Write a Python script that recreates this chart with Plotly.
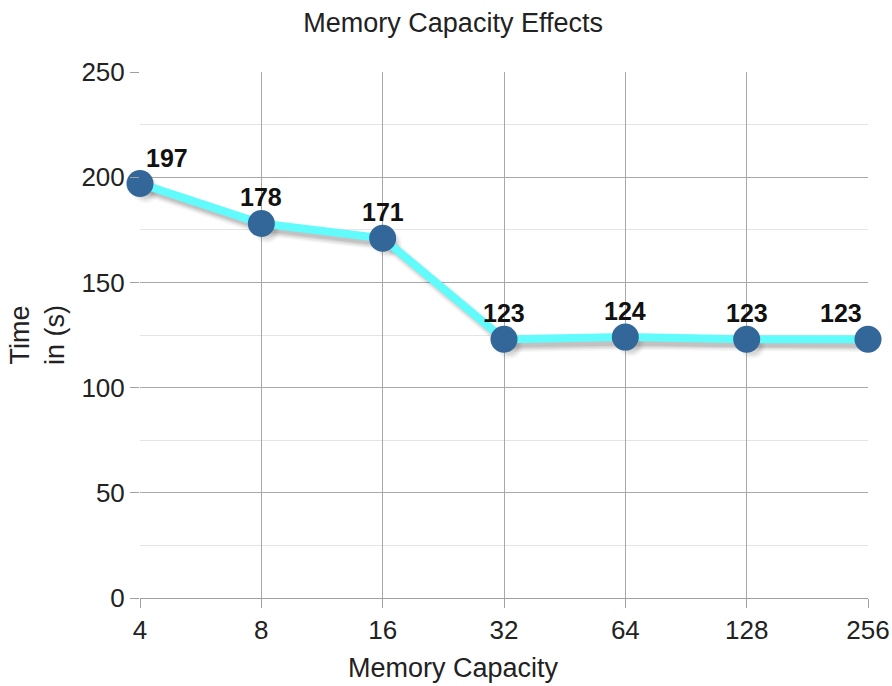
import plotly.graph_objects as go

# Memory capacity settings and measured run times
capacities = ["4", "8", "16", "32", "64", "128", "256"]
times = [197, 178, 171, 123, 124, 123, 123]

FONT = "Liberation Sans, Arial, sans-serif"
LINE_COLOR = "#62fbfb"
MARKER_COLOR = "#336699"

fig = go.Figure()

# invisible carrier trace so the main axes, grid and ticks are built
fig.add_trace(go.Scatter(
    x=capacities, y=times, mode="lines",
    line=dict(color="rgba(0,0,0,0)", width=0),
    hoverinfo="skip", showlegend=False,
))

# soft drop shadow under the line and markers, drawn on shifted overlay axes
for width, alpha in [(14, 0.05), (11, 0.08), (8, 0.11), (5, 0.13)]:
    fig.add_trace(go.Scatter(
        x=capacities, y=times, mode="lines+markers",
        line=dict(color=f"rgba(70,70,70,{alpha})", width=width),
        marker=dict(color=f"rgba(70,70,70,{alpha * 0.6})", size=14 + width),
        xaxis="x2", yaxis="y2", hoverinfo="skip", showlegend=False,
        cliponaxis=False,
    ))

# the series itself, on an overlay that matches the visible axes
fig.add_trace(go.Scatter(
    x=capacities, y=times, mode="lines+markers",
    line=dict(color=LINE_COLOR, width=8),
    marker=dict(color=MARKER_COLOR, size=27, line=dict(width=0)),
    xaxis="x3", yaxis="y3", cliponaxis=False, showlegend=False,
))

# value labels above each point; the outer ones nudged inward
n = len(capacities)
for i, t in enumerate(times):
    shift = 27 if i == 0 else (-27 if i == n - 1 else 0)
    fig.add_annotation(
        x=i, y=t, text=str(t), showarrow=False,
        xshift=shift, yshift=26,
        font=dict(family=FONT, size=25, color="#111111", weight="bold"),
    )

tick_font = dict(family=FONT, size=26, color="#222222")
title_font = dict(family=FONT, size=27, color="#222222")

# x-axis caption, centred on the page like the chart title
fig.add_annotation(
    text="Memory Capacity", xref="paper", yref="paper",
    x=0.43, y=-0.133, xanchor="center", yanchor="middle",
    showarrow=False, font=title_font,
)

cat_axis = dict(type="category", categoryorder="array", categoryarray=capacities)

fig.update_layout(
    width=892, height=686,
    margin=dict(l=140, r=24, t=72, b=88),
    paper_bgcolor="white", plot_bgcolor="white",
    title=dict(text="Memory Capacity Effects", x=0.508, xanchor="center",
               y=0.967, yanchor="middle", font=title_font),
    xaxis=dict(
        **cat_axis,
        range=[0, n - 1], showgrid=True, gridcolor="#a8a8a8", gridwidth=1,
        showline=True, linecolor="#a0a0a0", linewidth=1,
        ticks="outside", ticklen=9, tickcolor="#a0a0a0",
        tickfont=tick_font, automargin=False,
    ),
    yaxis=dict(
        range=[0, 250], dtick=50, showgrid=True, gridcolor="#a8a8a8",
        gridwidth=1, zeroline=False, automargin=False,
        showline=False, ticks="outside", ticklen=9, tickcolor="#a0a0a0",
        tickfont=tick_font,
        minor=dict(dtick=25, showgrid=True, gridcolor="#e4e4e4", ticks=""),
        title=dict(text="Time<br>in (s)", font=title_font, standoff=8),
    ),
    xaxis2=dict(**cat_axis, range=[-0.045, n - 1 - 0.045],
                overlaying="x", visible=False),
    yaxis2=dict(range=[2.8, 252.8], overlaying="y", visible=False),
    xaxis3=dict(**cat_axis, range=[0, n - 1], overlaying="x", visible=False),
    yaxis3=dict(range=[0, 250], overlaying="y", visible=False),
)

fig.write_html("out.html")
